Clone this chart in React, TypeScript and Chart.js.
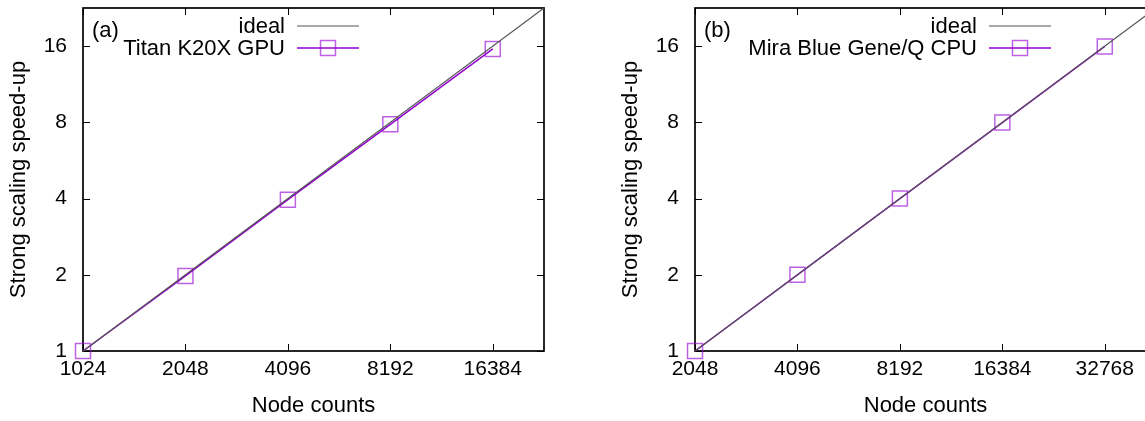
import React, { useEffect, useRef } from 'react';
import { Chart, registerables } from 'chart.js';

Chart.register(...registerables);

// ---- data ----
const xTicksA = [1024, 2048, 4096, 8192, 16384];
const xTicksB = [2048, 4096, 8192, 16384, 32768];
const yTicks = [1, 2, 4, 8, 16];

const nodesA = [1024, 2048, 4096, 8192, 16384];
const speedupA = [1, 1.98, 3.96, 7.86, 15.6];
const idealNodesA = [1024, 32768];
const idealSpeedA = [1, 32];

const nodesB = [2048, 4096, 8192, 16384, 32768];
const speedupB = [1, 2, 4, 7.98, 15.95];
const idealNodesB = [2048, 65536];
const idealSpeedB = [1, 32];

const xMinA = 1024;
const xMaxA = 23170;
const xMinB = 2048;
const xMaxB = 46341;
const yMin = 1;
const yMax = 22.63;

const panelLabels = ['(a)', '(b)'];
const seriesNames = ['Titan K20X GPU', 'Mira Blue Gene/Q CPU'];
const idealName = 'ideal';
const xTitle = 'Node counts';
const yTitle = 'Strong scaling speed-up';

const FONT_FAMILY = '"Liberation Sans", Arial, Helvetica, sans-serif';
const TICK_SIZE = 21;
const TEXT_SIZE = 22;
const PURPLE = '#9400D3';
const PURPLE_MARK = 'rgba(148,0,211,0.62)';
const IDEAL = '#555555';

type PanelProps = {
  xs: number[];
  ys: number[];
  idealXs: number[];
  idealYs: number[];
  xTicks: number[];
  xMin: number;
  xMax: number;
  label: string;
  name: string;
  legendTextRight: number; // offset from chart area left
};

function Panel(props: PanelProps) {
  const ref = useRef<HTMLCanvasElement | null>(null);
  useEffect(() => {
    const canvas = ref.current;
    if (!canvas) return;
    const tickFont = { family: FONT_FAMILY, size: TICK_SIZE };
    const textFont = { family: FONT_FAMILY, size: TEXT_SIZE };
    const fontStr = `${TEXT_SIZE}px ${FONT_FAMILY}`;

    const framePlugin = {
      id: 'frame',
      beforeDatasetsDraw(chart: any) {
        const { ctx, chartArea } = chart;
        const { left, right, top, bottom } = chartArea;
        const xs = chart.scales.x;
        const ys = chart.scales.y;
        const tl = 7;
        ctx.save();
        ctx.strokeStyle = '#000';
        ctx.lineWidth = 1;
        ctx.beginPath();
        xs.ticks.forEach((t: any) => {
          const px = Math.round(xs.getPixelForValue(t.value)) + 0.5;
          ctx.moveTo(px, bottom);
          ctx.lineTo(px, bottom - tl);
          ctx.moveTo(px, top);
          ctx.lineTo(px, top + tl);
        });
        ys.ticks.forEach((t: any) => {
          const py = Math.round(ys.getPixelForValue(t.value)) + 0.5;
          ctx.moveTo(left, py);
          ctx.lineTo(left + tl, py);
          ctx.moveTo(right, py);
          ctx.lineTo(right - tl, py);
        });
        ctx.stroke();
        ctx.lineWidth = 1.7;
        ctx.strokeRect(left, top, right - left, bottom - top);
        ctx.restore();
      },
      afterDatasetsDraw(chart: any) {
        const { ctx, chartArea } = chart;
        const { left, top } = chartArea;
        ctx.save();
        ctx.font = fontStr;
        ctx.fillStyle = '#000';
        ctx.textBaseline = 'middle';
        // panel label
        ctx.textAlign = 'left';
        ctx.fillText(props.label, left + 9, top + 23);
        // legend
        const textRight = left + props.legendTextRight;
        const lineStart = textRight + 12;
        const lineEnd = lineStart + 62;
        const rows = [top + 18, top + 40];
        chart.data.datasets.forEach((ds: any, i: number) => {
          const y = rows[i];
          ctx.textAlign = 'right';
          ctx.fillStyle = '#000';
          ctx.fillText(ds.label, textRight, y + 1);
          ctx.strokeStyle = ds.borderColor;
          ctx.lineWidth = ds.borderWidth;
          ctx.beginPath();
          ctx.moveTo(lineStart, y);
          ctx.lineTo(lineEnd, y);
          ctx.stroke();
          if (ds.pointRadius > 0) {
            const side = ds.pointRadius * Math.SQRT2;
            const cx = (lineStart + lineEnd) / 2;
            ctx.strokeStyle = ds.pointBorderColor;
            ctx.lineWidth = ds.pointBorderWidth;
            ctx.strokeRect(cx - side / 2, y - side / 2, side, side);
          }
        });
        ctx.restore();
      },
    };

    const chart = new Chart(canvas, {
      type: 'scatter',
      data: {
        datasets: [
          {
            label: idealName,
            data: props.idealXs.map((x, i) => ({ x, y: props.idealYs[i] })),
            showLine: true,
            borderColor: IDEAL,
            borderWidth: 1.2,
            pointRadius: 0,
            pointHoverRadius: 0,
          } as any,
          {
            label: props.name,
            data: props.xs.map((x, i) => ({ x, y: props.ys[i] })),
            showLine: true,
            clip: false,
            borderColor: PURPLE,
            borderWidth: 1.5,
            pointStyle: 'rect',
            pointRadius: 10.6,
            pointBorderColor: PURPLE_MARK,
            pointBackgroundColor: 'rgba(0,0,0,0)',
            pointBorderWidth: 1.5,
          } as any,
        ],
      },
      options: {
        animation: false,
        responsive: false,
        devicePixelRatio: window.devicePixelRatio || 1,
        layout: { autoPadding: false, padding: { top: 8, right: 39, left: 0, bottom: 0 } },
        plugins: {
          legend: { display: false },
          tooltip: { enabled: false },
        },
        scales: {
          x: {
            type: 'logarithmic',
            min: props.xMin,
            max: props.xMax,
            afterBuildTicks: (s: any) => {
              s.ticks = props.xTicks.map((v) => ({ value: v }));
            },
            afterFit: (s: any) => {
              s.height = 70;
              s.paddingLeft = 0;
              s.paddingRight = 0;
            },
            ticks: {
              autoSkip: false,
              maxRotation: 0,
              minRotation: 0,
              padding: 6,
              color: '#000',
              font: tickFont,
              callback: (v: any) => String(v),
            },
            grid: { display: false, drawTicks: false },
            border: { display: false },
            title: {
              display: true,
              text: xTitle,
              color: '#000',
              font: textFont,
              padding: { top: 0, bottom: 2 },
            },
          },
          y: {
            type: 'logarithmic',
            min: yMin,
            max: yMax,
            afterBuildTicks: (s: any) => {
              s.ticks = yTicks.map((v) => ({ value: v }));
            },
            afterFit: (s: any) => {
              s.width = 83;
              s.paddingTop = 0;
              s.paddingBottom = 0;
            },
            ticks: {
              autoSkip: false,
              padding: 16,
              color: '#000',
              font: tickFont,
              callback: (v: any) => String(v),
            },
            grid: { display: false, drawTicks: false },
            border: { display: false },
            title: {
              display: true,
              text: yTitle,
              color: '#000',
              font: textFont,
              padding: { top: 6, bottom: 0 },
            },
          },
        },
      } as any,
      plugins: [framePlugin],
    });
    return () => chart.destroy();
  }, []);
  return <canvas ref={ref} width={583} height={421} style={{ width: 583, height: 421, display: 'block' }} />;
}

export default function App() {
  return (
    <div
      style={{
        position: 'fixed',
        left: 0,
        top: 0,
        width: 1145,
        height: 421,
        overflow: 'hidden',
        background: '#fff',
      }}
    >
      <div style={{ position: 'absolute', left: 0, top: 0 }}>
        <Panel
          xs={nodesA}
          ys={speedupA}
          idealXs={idealNodesA}
          idealYs={idealSpeedA}
          xTicks={xTicksA}
          xMin={xMinA}
          xMax={xMaxA}
          label={panelLabels[0]}
          name={seriesNames[0]}
          legendTextRight={202}
        />
      </div>
      <div style={{ position: 'absolute', left: 612, top: 0 }}>
        <Panel
          xs={nodesB}
          ys={speedupB}
          idealXs={idealNodesB}
          idealYs={idealSpeedB}
          xTicks={xTicksB}
          xMin={xMinB}
          xMax={xMaxB}
          label={panelLabels[1]}
          name={seriesNames[1]}
          legendTextRight={282}
        />
      </div>
    </div>
  );
}
